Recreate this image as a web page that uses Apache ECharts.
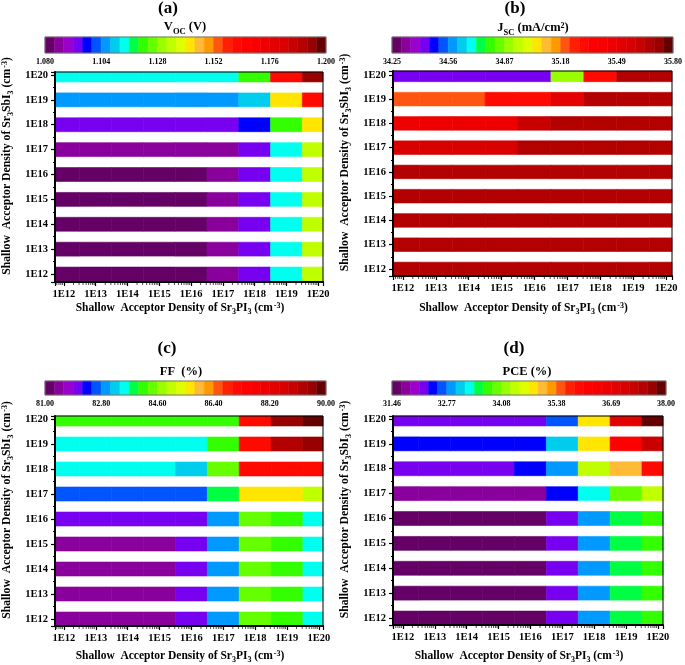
<!DOCTYPE html>
<html><head><meta charset="utf-8">
<script src="https://cdn.jsdelivr.net/npm/echarts@6/dist/echarts.min.js"></script>
<style>html,body{margin:0;padding:0;background:#fff}#c{width:685px;height:665px}</style>
</head><body><div id="c"></div>
<script>
// ---------- data ----------
const densityExp = [12, 13, 14, 15, 16, 17, 18, 19, 20];           // x: Sr3PI3 acceptor density exponent
const rowExp = [12, 13, 14, 15, 16, 17, 18, 19, 20];               // y: Sr3SbI3 acceptor density exponent
const densityLabels = ['1E12','1E13','1E14','1E15','1E16','1E17','1E18','1E19','1E20'];

const palette = ['#640066','#8a009c','#9b00cc','#7800f0','#0000ff','#0055ff','#0099ff','#00ccee','#00ffee','#00ff44',
  '#33ff00','#66ff00','#99ff00','#bfff00','#ddff00','#ffe500','#ffbb33','#ff9900','#ff5511','#ff2000',
  '#ff0a00','#ff0000','#f80000','#ee0000','#e30000','#d80000','#c80000','#b30000','#990000','#640000'];

const vocRange = [1.080, 1.200];
const vocTicks = ['1.080','1.104','1.128','1.152','1.176','1.200'];
const vocRows = [ // rows 1E12 -> 1E20, columns 1E12 -> 1E20 (V)
  [1.082,1.082,1.082,1.083,1.082,1.087,1.094,1.114,1.135],
  [1.082,1.082,1.082,1.083,1.082,1.087,1.094,1.114,1.135],
  [1.082,1.082,1.082,1.083,1.082,1.087,1.094,1.114,1.135],
  [1.082,1.082,1.082,1.083,1.082,1.087,1.094,1.114,1.135],
  [1.082,1.082,1.082,1.083,1.082,1.087,1.095,1.114,1.135],
  [1.086,1.086,1.086,1.086,1.087,1.087,1.095,1.114,1.135],
  [1.094,1.094,1.094,1.094,1.095,1.095,1.098,1.122,1.142],
  [1.106,1.106,1.106,1.106,1.106,1.107,1.110,1.142,1.162],
  [1.114,1.114,1.114,1.114,1.114,1.115,1.122,1.162,1.194]
];

const jscRange = [34.25, 35.80];
const jscTicks = ['34.25','34.56','34.87','35.18','35.49','35.80'];
const jscRows = [ // mA/cm2
  [35.67,35.67,35.67,35.67,35.67,35.68,35.68,35.68,35.68],
  [35.67,35.67,35.67,35.67,35.67,35.68,35.68,35.68,35.68],
  [35.67,35.67,35.67,35.67,35.67,35.68,35.68,35.68,35.68],
  [35.66,35.66,35.66,35.66,35.67,35.67,35.68,35.68,35.68],
  [35.66,35.66,35.66,35.66,35.66,35.67,35.67,35.68,35.68],
  [35.57,35.57,35.57,35.57,35.66,35.67,35.67,35.68,35.68],
  [35.46,35.46,35.46,35.46,35.62,35.66,35.67,35.67,35.68],
  [35.21,35.21,35.21,35.31,35.31,35.52,35.66,35.67,35.67],
  [34.43,34.43,34.43,34.43,34.43,34.90,35.31,35.66,35.67]
];

const ffRange = [81.00, 90.00];
const ffTicks = ['81.00','82.80','84.60','86.40','88.20','90.00'];
const ffRows = [ // %
  [81.45,81.45,81.45,81.45,82.05,82.95,84.45,84.15,83.55],
  [81.45,81.45,81.45,81.45,82.05,82.95,84.45,84.15,83.55],
  [81.45,81.45,81.45,81.45,82.05,82.95,84.45,84.15,83.55],
  [81.45,81.45,81.45,81.45,82.05,82.95,84.45,84.15,83.55],
  [82.05,82.05,82.05,82.05,82.05,82.95,84.45,84.15,83.55],
  [82.65,82.65,82.65,82.65,82.65,83.85,85.65,85.65,85.05],
  [83.55,83.55,83.55,83.55,83.25,84.45,87.15,87.15,87.15],
  [83.55,83.55,83.55,83.55,83.55,84.15,87.15,89.25,89.55],
  [84.15,84.15,84.15,84.15,84.15,84.15,87.15,89.55,89.85]
];

const pceRange = [31.46, 38.00];
const pceTicks = ['31.46','32.77','34.08','35.38','36.69','38.00'];
const pceRows = [ // %
  [31.57,31.57,31.57,31.57,31.57,32.22,32.88,33.53,33.75],
  [31.57,31.57,31.57,31.57,31.57,32.22,32.88,33.53,33.75],
  [31.57,31.57,31.57,31.57,31.57,32.22,32.88,33.53,33.75],
  [31.57,31.57,31.57,31.57,31.57,32.22,32.88,33.53,33.75],
  [31.57,31.57,31.57,31.57,31.57,32.22,32.88,33.53,33.75],
  [31.79,31.79,31.79,31.79,31.79,32.44,33.31,33.97,34.40],
  [32.22,32.22,32.22,32.22,32.44,32.88,34.40,35.06,35.93],
  [32.44,32.44,32.44,32.44,32.44,33.10,34.84,36.15,37.24],
  [32.22,32.22,32.22,32.22,32.22,32.66,34.84,36.80,37.89]
];

// ---------- layout / style ----------
const FF = '"Liberation Serif","Times New Roman",serif';
const bold = (px) => 'bold ' + px + 'px ' + FF;

const panels = [
  { key:'a', rows: vocRows, range: vocRange, ticks: vocTicks,
    grid:{left:48, top:72, width:275, height:210}, cb:{left:45, top:37, width:281, height:16},
    x:[11.72, 20.15], y:[11.68, 20.12], nameGapX:20,
    title:{x:168, y:9}, cbTitle:{x:185, y:28, text:'{b|V}{s|OC}{b| (V)}'} },
  { key:'b', rows: jscRows, range: jscRange, ticks: jscTicks,
    grid:{left:393, top:71, width:279, height:205}, cb:{left:392, top:37, width:283, height:16},
    x:[11.70, 20.18], y:[11.71, 20.16], nameGapX:26,
    title:{x:515, y:9}, cbTitle:{x:533, y:29, text:'{b|J}{s|SC}{b| (mA/cm}{p|2}{b|)}'} },
  { key:'c', rows: ffRows, range: ffRange, ticks: ffTicks,
    grid:{left:48, top:416, width:275, height:211}, cb:{left:45, top:381, width:281, height:14},
    x:[11.72, 20.13], y:[11.72, 20.12], nameGapX:24,
    title:{x:167, y:349}, cbTitle:{x:181, y:373, text:'{b|FF  (%)}'} },
  { key:'d', rows: pceRows, range: pceRange, ticks: pceTicks,
    grid:{left:393, top:416, width:270, height:209}, cb:{left:392, top:381, width:274, height:14},
    x:[11.69, 20.16], y:[11.72, 20.12], nameGapX:25,
    title:{x:514, y:349}, cbTitle:{x:527, y:373, text:'{b|PCE (%)}'} }
];

const titleRich = {
  b:{font:bold(12.5), fill:'#000', lineHeight:15, verticalAlign:'top'},
  s:{font:bold(8.5), fill:'#000', lineHeight:9, padding:[7,0,0,0], verticalAlign:'top'},
  p:{font:bold(8), fill:'#000', lineHeight:9, padding:[0,0,0,0], verticalAlign:'top'}
};
function axisRich(size){
  return {
    t:{fontFamily:FF, fontWeight:'bold', fontSize:size, color:'#000', lineHeight:15, verticalAlign:'top'},
    s:{fontFamily:FF, fontWeight:'bold', fontSize:8, color:'#000', lineHeight:9, padding:[6,0,0,0], verticalAlign:'top'},
    p:{fontFamily:FF, fontWeight:'bold', fontSize:8, color:'#000', lineHeight:9, padding:[0,0,0,1], verticalAlign:'top'}
  };
}
const xName = '{t|Shallow  Acceptor Density of Sr}{s|3}{t|PI}{s|3}{t| (cm}{p|-3}{t|)}';
const yName = '{t|Shallow  Acceptor Density of Sr}{s|3}{t|SbI}{s|3}{t| (cm}{p|-3}{t|)}';

const fmtDensity = (v) => {
  const i = densityExp.indexOf(Math.round(v * 1000) / 1000);
  return i >= 0 ? densityLabels[i] : '';
};

function colorOf(v, range){
  const step = (range[1] - range[0]) / palette.length;
  let i = Math.floor((v - range[0]) / step);
  i = Math.max(0, Math.min(palette.length - 1, i));
  return palette[i];
}

const grids = [], xAxes = [], yAxes = [], series = [], graphics = [];

panels.forEach((P, pi) => {
  // main grid
  const gMain = grids.length;
  grids.push(Object.assign({show:true, borderColor:'#000', borderWidth:1, backgroundColor:'transparent', z:10}, P.grid));
  xAxes.push({gridIndex:gMain, type:'value', min:P.x[0], max:P.x[1], minInterval:1, maxInterval:1, splitNumber:8, z:12,
    axisLine:{show:true, onZero:false, lineStyle:{color:'#000', width:2}},
    axisTick:{show:true, length:4, lineStyle:{color:'#000', width:1.2}},
    splitLine:{show:false},
    axisLabel:{formatter:fmtDensity, fontFamily:FF, fontWeight:'bold', fontSize:10.5, color:'#000', margin:7},
    name:xName, nameLocation:'middle', nameGap:P.nameGapX,
    nameTextStyle:{rich:axisRich(11.5), padding:[0,18,0,0]}
  });
  yAxes.push({gridIndex:gMain, type:'value', min:P.y[0], max:P.y[1], minInterval:1, maxInterval:1, splitNumber:8, z:12,
    axisLine:{show:true, onZero:false, lineStyle:{color:'#000', width:2}},
    axisTick:{show:true, length:4, lineStyle:{color:'#000', width:1.2}},
    minorTick:{show:true, splitNumber:2, length:2, lineStyle:{color:'#000', width:1}},
    splitLine:{show:false},
    axisLabel:{formatter:fmtDensity, fontFamily:FF, fontWeight:'bold', fontSize:10.5, color:'#000', margin:7},
    name:yName, nameLocation:'middle', nameGap:39, nameRotate:90,
    nameTextStyle:{rich:axisRich(11.7), padding:[0,0,0,22]}
  });
  // cells
  const cells = [];
  P.rows.forEach((row, r) => row.forEach((v, c) => cells.push([densityExp[c], rowExp[r], v])));
  const rng = P.range, xr = P.x, yr = P.y;
  series.push({type:'custom', xAxisIndex:gMain, yAxisIndex:gMain, data:cells, silent:true, z:5,
    encode:{x:0, y:1},
    renderItem:(params, api) => {
      const xv = api.value(0), yv = api.value(1), v = api.value(2);
      const p0 = api.coord([xv - 0.5, yv + 0.28]);
      const p1 = api.coord([xv + 0.5, yv - 0.28]);
      const cs = params.coordSys;
      const rect = echarts.graphic.clipRectByRect(
        {x:p0[0], y:p0[1], width:p1[0]-p0[0], height:p1[1]-p0[1]},
        {x:cs.x, y:cs.y, width:cs.width, height:cs.height});
      if (!rect) return;
      const col = colorOf(v, rng);
      return {type:'rect', shape:rect, style:{fill:col, stroke:col, lineWidth:0.6}};
    }
  });
  // log minor ticks on x axis
  series.push({type:'custom', xAxisIndex:gMain, yAxisIndex:gMain, data:[[xr[0], yr[0]]], silent:true, z:13,
    renderItem:(params, api) => {
      const cs = params.coordSys, children = [];
      for (let n = 11; n <= 20; n++) for (let k = 2; k <= 9; k++) {
        const xv = n + Math.log10(k);
        if (xv <= xr[0] || xv >= xr[1]) continue;
        const px = api.coord([xv, yr[0]])[0];
        children.push({type:'line', shape:{x1:px, y1:cs.y + cs.height + 1, x2:px, y2:cs.y + cs.height + 3},
          style:{stroke:'#000', lineWidth:0.7}});
      }
      return {type:'group', children};
    }
  });

  // colour bar
  const gCb = grids.length;
  grids.push(Object.assign({show:true, borderColor:'#777', borderWidth:1, backgroundColor:'transparent', z:10}, P.cb));
  const tk = P.ticks;
  xAxes.push({gridIndex:gCb, type:'value', min:0, max:palette.length, interval:6,
    axisLine:{show:false}, axisTick:{show:false}, splitLine:{show:false},
    axisLabel:{formatter:(v) => tk[Math.round(v/6)] || '', fontFamily:FF, fontWeight:'bold', fontSize:8, color:'#000', margin:5}
  });
  yAxes.push({gridIndex:gCb, type:'value', min:0, max:1, show:false});
  series.push({type:'custom', xAxisIndex:gCb, yAxisIndex:gCb, data:palette.map((c, i) => [i]), silent:true,
    renderItem:(params, api) => {
      const i = api.value(0);
      const p0 = api.coord([i, 1]), p1 = api.coord([i + 1, 0]);
      return {type:'rect', shape:{x:p0[0], y:p0[1], width:p1[0]-p0[0], height:p1[1]-p0[1]},
        style:{fill:palette[i], stroke:palette[i], lineWidth:0.5}};
    }
  });

  graphics.push({type:'text', x:P.title.x, y:P.title.y, z:20,
    style:{text:'(' + P.key + ')', font:bold(17), fill:'#000', textAlign:'center', textVerticalAlign:'middle'}});
  graphics.push({type:'text', x:P.cbTitle.x, y:P.cbTitle.y, z:20,
    style:{text:P.cbTitle.text, rich:titleRich, font:bold(12.5), fill:'#000', textAlign:'center', textVerticalAlign:'middle'}});
});

const chart = echarts.init(document.getElementById('c'), null, {renderer:'canvas'});
chart.setOption({
  animation:false,
  backgroundColor:'#fff',
  grid:grids, xAxis:xAxes, yAxis:yAxes, series:series, graphic:graphics
});
</script></body></html>
